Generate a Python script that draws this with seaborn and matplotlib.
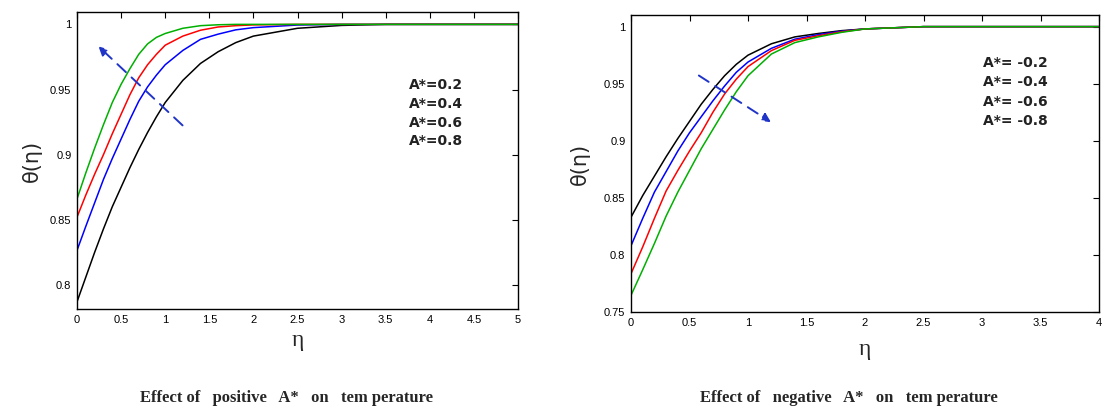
import numpy as np
import seaborn as sns
from matplotlib import pyplot as plt

# ---- values ----
# positive A*  (eta from 0 to 5)
eta_pos = [0, 0.1, 0.2, 0.3, 0.4, 0.5, 0.6, 0.7, 0.8, 0.9, 1.0, 1.2, 1.4, 1.6, 1.8, 2.0, 2.5, 3.0, 3.5, 5.0]
theta_pos_02 = [0.787, 0.806, 0.825, 0.843, 0.860, 0.875, 0.890, 0.904, 0.917, 0.929, 0.940,
                0.957, 0.970, 0.979, 0.986, 0.991, 0.997, 0.9992, 1.0, 1.0]
theta_pos_04 = [0.8265, 0.845, 0.863, 0.881, 0.897, 0.912, 0.927, 0.941, 0.952, 0.961, 0.969,
                0.980, 0.9885, 0.9925, 0.9958, 0.9975, 0.9995, 1.0, 1.0, 1.0]
theta_pos_06 = [0.852, 0.869, 0.885, 0.900, 0.916, 0.931, 0.946, 0.959, 0.969, 0.977, 0.984,
                0.991, 0.9955, 0.998, 0.999, 0.9996, 1.0, 1.0, 1.0, 1.0]
theta_pos_08 = [0.866, 0.886, 0.905, 0.923, 0.940, 0.954, 0.966, 0.977, 0.985, 0.990, 0.993,
                0.997, 0.999, 0.9997, 1.0, 1.0, 1.0, 1.0, 1.0, 1.0]
labels_pos = ["A*=0.2", "A*=0.4", "A*=0.6", "A*=0.8"]

# negative A*  (eta from 0 to 4)
eta_neg = [0, 0.1, 0.2, 0.3, 0.4, 0.5, 0.6, 0.7, 0.8, 0.9, 1.0, 1.2, 1.4, 1.6, 1.8, 2.0, 2.5, 4.0]
theta_neg_02 = [0.833, 0.852, 0.869, 0.886, 0.902, 0.917, 0.932, 0.945, 0.957, 0.967, 0.975,
                0.985, 0.991, 0.994, 0.9965, 0.998, 1.0, 1.0]
theta_neg_04 = [0.808, 0.832, 0.855, 0.873, 0.891, 0.907, 0.921, 0.935, 0.948, 0.960, 0.969,
                0.981, 0.989, 0.993, 0.996, 0.998, 1.0, 1.0]
theta_neg_06 = [0.7835, 0.807, 0.832, 0.856, 0.874, 0.891, 0.907, 0.925, 0.941, 0.954, 0.965,
                0.979, 0.988, 0.992, 0.9955, 0.998, 1.0, 1.0]
theta_neg_08 = [0.7646, 0.787, 0.810, 0.834, 0.855, 0.874, 0.893, 0.910, 0.927, 0.943, 0.957,
                0.976, 0.986, 0.991, 0.995, 0.998, 1.0, 1.0]
labels_neg = ["A*= -0.2", "A*= -0.4", "A*= -0.6", "A*= -0.8"]

line_colors = ["black", "#0000ff", "#ff0000", "#00b000"]

sns.set_theme(style="white")
plt.rcParams['font.family'] = ['DejaVu Sans']

fig = plt.figure(figsize=(11.08, 4.12), dpi=100)
ax1 = fig.add_axes([77 / 1108, 1 - 309 / 412, 441 / 1108, 297 / 412])
ax2 = fig.add_axes([631 / 1108, 1 - 312 / 412, 468 / 1108, 297 / 412])

for y, c in zip([theta_pos_02, theta_pos_04, theta_pos_06, theta_pos_08], line_colors):
    sns.lineplot(x=eta_pos, y=y, ax=ax1, color=c, linewidth=1.1)

for y, c in zip([theta_neg_02, theta_neg_04, theta_neg_06, theta_neg_08], line_colors):
    sns.lineplot(x=eta_neg, y=y, ax=ax2, color=c, linewidth=1.1)

# matlab-like box with inward ticks
for ax in (ax1, ax2):
    for s in ax.spines.values():
        s.set_color("black")
        s.set_linewidth(1.0)
    ax.tick_params(direction="in", length=4, width=0.8, top=True, right=True,
                   labelsize=8, colors="black", pad=4)

ax1.set_xlim(0, 5)
ax1.set_ylim(0.7815, 1.0095)
ax1.set_xticks(np.arange(0, 5.01, 0.5))
ax1.set_xticklabels(["0", "0.5", "1", "1.5", "2", "2.5", "3", "3.5", "4", "4.5", "5"], family="Liberation Sans")
ax1.set_yticks([0.8, 0.85, 0.9, 0.95, 1.0])
ax1.set_yticklabels(["0.8", "0.85", "0.9", "0.95", "1"], family="Liberation Sans")

ax2.set_xlim(0, 4)
ax2.set_ylim(0.75, 1.0102)
ax2.set_xticks(np.arange(0, 4.01, 0.5))
ax2.set_xticklabels(["0", "0.5", "1", "1.5", "2", "2.5", "3", "3.5", "4"], family="Liberation Sans")
ax2.set_yticks([0.75, 0.8, 0.85, 0.9, 0.95, 1.0])
ax2.set_yticklabels(["0.75", "0.8", "0.85", "0.9", "0.95", "1"], family="Liberation Sans")

ax1.set_xlabel("η", fontsize=17, family="Liberation Serif", labelpad=4)
ax2.set_xlabel("η", fontsize=17, family="Liberation Serif", labelpad=8)
ax1.set_ylabel("θ(η)", fontsize=15, labelpad=6)
ax2.set_ylabel("θ(η)", fontsize=15, labelpad=10)

# parameter labels
for i, t in enumerate(labels_pos):
    ax1.text(0.753, 0.754 - i * 0.0633, t, transform=ax1.transAxes, fontsize=10,
             fontweight="bold", va="center", color="#222222")
for i, t in enumerate(labels_neg):
    ax2.text(0.752, 0.838 - i * 0.065, t, transform=ax2.transAxes, fontsize=10,
             fontweight="bold", va="center", color="#222222")

# dashed trend arrows
ax1.annotate("", xy=(0.22, 0.9846), xytext=(1.22, 0.921),
             arrowprops=dict(arrowstyle="-|>", color="#2035c8", lw=1.4,
                             linestyle=(0, (6, 4)), mutation_scale=13))
ax2.annotate("", xy=(1.216, 0.915), xytext=(0.56, 0.9585),
             arrowprops=dict(arrowstyle="-|>", color="#2035c8", lw=1.4,
                             linestyle=(0, (6, 4)), mutation_scale=13))

# captions
fig.text(286 / 1108, 1 - 398 / 412, "Effect of   positive   A*   on   tem perature", ha="center",
         va="center", fontsize=12, fontweight="bold", family="Liberation Serif")
fig.text(849 / 1108, 1 - 398 / 412, "Effect of   negative   A*   on   tem perature", ha="center",
         va="center", fontsize=12, fontweight="bold", family="Liberation Serif")

fig.savefig("out.png", dpi=100)
